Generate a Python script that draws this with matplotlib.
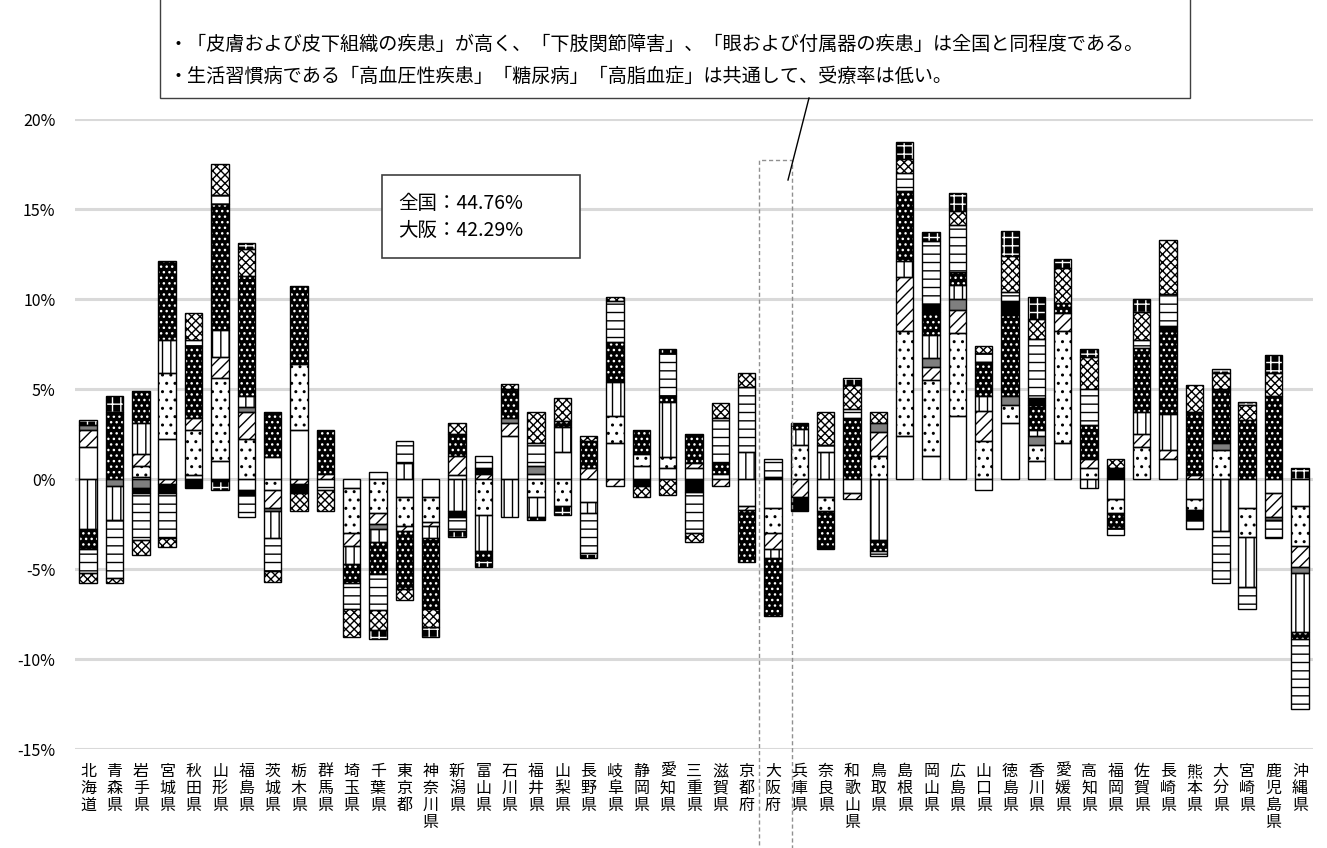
import numpy as np
import matplotlib
matplotlib.use('Agg')
import matplotlib.pyplot as plt
from matplotlib.patches import Rectangle
from matplotlib.lines import Line2D

plt.rcParams['font.family'] = ['Noto Sans CJK JP', 'DejaVu Sans']
plt.rcParams['hatch.linewidth'] = 1.0

# ── データ (全国比の差, %) ──
prefs = ['北海道', '青森県', '岩手県', '宮城県', '秋田県', '山形県', '福島県', '茨城県',
         '栃木県', '群馬県', '埼玉県', '千葉県', '東京都', '神奈川県', '新潟県', '富山県',
         '石川県', '福井県', '山梨県', '長野県', '岐阜県', '静岡県', '愛知県', '三重県',
         '滋賀県', '京都府', '大阪府', '兵庫県', '奈良県', '和歌山県', '鳥取県', '島根県',
         '岡山県', '広島県', '山口県', '徳島県', '香川県', '愛媛県', '高知県', '福岡県',
         '佐賀県', '長崎県', '熊本県', '大分県', '宮崎県', '鹿児島県', '沖縄県']

# 系列 (下から順に積み上げ)
s_blank = [1.8, 0, 0.1, 2.2, 0.2, 1.0, -0.6, 1.2, 2.7, 0, -0.5, 0.4, -1.0, -1.0, 0.2, 0,
           2.4, 0.3, 1.5, -1.3, 2.0, 0.7, 0.6, 0.6, 0.3, -1.5, -1.6, 0, -1.0, -0.8, 0, 2.4,
           1.3, 3.5, -0.6, 3.1, 1.0, 2.0, 0, -1.1, 0, 1.1, -1.1, 0, -1.6, -0.8, -1.5]
s_dots = [0, 0, 0.6, 3.7, 2.5, 4.6, 2.2, -0.6, 3.7, 0, -2.5, -1.9, -1.6, -1.4, 0, -2.0,
          0, -1.0, -1.5, 0, 1.5, 0.7, 0.6, 0, 0, 0, -1.4, 1.9, -0.8, 0, 1.3, 5.8,
          4.2, 4.6, 2.1, 1.0, 0.9, 6.2, 0.6, -0.8, 1.8, 0, -0.6, 1.6, -1.6, 0, -2.2]
s_diag = [0.9, 0, 0.7, -0.3, 0.7, 1.2, 1.5, -1.0, -0.3, 0.3, -0.7, -0.6, -0.3, -0.2, 1.1, 0.3,
          0.7, 0, 0, 0.6, -0.4, 0, 0, 0.3, -0.4, -0.2, -0.9, -1.0, 0, -0.3, 1.3, 3.0,
          0.7, 1.3, 1.7, 0, 0, 1.0, 0.5, 0, 0.7, 0.5, 0.2, 0, 0, -1.3, -1.2]
s_gray = [0.3, -0.4, -0.5, 0, 0, 0, 0.3, -0.2, 0, 0, 0, -0.3, 0, 0, 0, 0,
          0.3, 0.4, 0, 0, 0, 0, 0, 0, 0, 0, 0, 0, 0, 0, 0.5, 0,
          0.5, 0.6, 0, 0.5, 0.5, 0, 0, 0, 0, 0, 0, 0.4, 0, -0.2, -0.3]
s_vert = [-2.8, -1.9, 1.7, 1.8, 0, 1.5, 0.6, -1.5, 0, 0, -1.0, -0.7, 0.9, -0.7, -1.8, -2.0,
          -2.1, -1.1, 1.4, -0.6, 1.9, 0, 3.1, 0, 0, 1.5, -0.5, 0.9, 1.5, 0, -3.4, 0.9,
          1.3, 0.8, 0.8, 0, 0.3, 0, -0.5, 0, 1.2, 2.0, 0, -2.9, -2.8, 0, -3.3]
s_ddots = [-1.1, 3.6, 1.8, 4.4, 4.0, 7.0, 6.7, 2.5, 4.3, 2.4, -1.1, -1.8, -3.2, -3.9, 1.2, -0.5,
           1.6, 0, 0.3, 1.5, 2.2, 1.3, 0.3, 1.6, 0.6, -2.9, -3.2, 0.3, -1.9, 3.4, -0.6, 3.9,
           1.3, 0.7, 1.9, 4.5, 1.4, 0.6, 1.9, -0.8, 3.6, 4.6, 3.5, 3.0, 3.3, 4.6, -0.4]
s_black = [0, 0.1, -0.3, -0.5, -0.5, -0.1, -0.3, 0, -0.5, 0, 0, 0, 0, 0, -0.3, 0.3,
           0, 0, 0, 0, 0, -0.4, 0, -0.7, 0, 0, 0.1, -0.8, -0.2, 0, 0, 0,
           0.4, 0, 0, 0.8, 0.4, 0, 0, 0.6, 0, 0.3, -0.6, 0, 0, 0, 0]
s_horiz = [-1.3, -3.2, -2.6, -2.5, 0.3, 0.5, -1.2, -1.8, 0, -0.6, -1.4, -2.0, 1.2, 0, -0.8, 0.7,
           0, 1.3, 0, -2.2, 2.3, 0, 2.4, -2.3, 2.5, 3.6, 1.0, 0, 0.4, 0.5, -0.3, 1.0,
           3.5, 2.6, 0.5, 0.5, 3.3, 0, 2.0, -0.4, 0.4, 1.8, -0.5, -2.9, -1.2, -1.0, -3.9]
s_cross = [-0.6, -0.3, -0.8, -0.5, 1.5, 1.7, 1.5, -0.6, -1.0, -1.2, -1.6, -1.1, -0.6, -1.0, 0.6, 0,
           0.3, 1.7, 1.3, 0.3, 0.2, -0.6, -0.9, -0.5, 0.8, 0.8, 0, 0, 1.8, 1.3, 0.6, 0.8,
           0, 0.8, 0.4, 2.0, 1.1, 1.9, 1.8, 0.5, 1.6, 3.0, 1.5, 0.9, 0.8, 1.3, 0]
s_check = [0.3, 0.9, 0, 0, 0, -0.5, 0.3, 0, 0, 0, 0, -0.5, 0, -0.6, -0.3, -0.4,
           0, -0.2, -0.5, -0.3, 0, 0, 0.2, 0, 0, 0, 0, 0, 0, 0.4, 0, 0.9,
           0.5, 1.0, 0, 1.4, 1.2, 0.5, 0.4, 0, 0.7, 0, 0, 0.2, 0.2, 1.0, 0.6]

y_ticks = [-15, -10, -5, 0, 5, 10, 15, 20]

note_lines = ['・「皮膚および皮下組織の疾患」が高く、「下肢関節障害」、「眼および付属器の疾患」は全国と同程度である。',
              '・生活習慣病である「高血圧性疾患」「糖尿病」「高脂血症」は共通して、受療率は低い。']
rate_text = '全国：44.76%\n大阪：42.29%'

# (面色, ハッチ色, ハッチ)
styles = [
    ('white', 'black', None),
    ('white', 'black', '..'),
    ('white', 'black', '///'),
    ('#7f7f7f', '#7f7f7f', None),
    ('white', 'black', '||'),
    ('black', 'white', '...'),
    ('black', 'black', None),
    ('white', 'black', '--'),
    ('white', 'black', 'xxxx'),
    ('black', 'white', '++'),
]
series = [s_blank, s_dots, s_diag, s_gray, s_vert, s_ddots, s_black, s_horiz, s_cross, s_check]

W, H = 1327, 848
fig = plt.figure(figsize=(W / 100, H / 100), dpi=100)
ax = fig.add_axes([75 / W, 1 - 749 / H, (1313 - 75) / W, (749 - 119) / H])

x = np.arange(len(prefs))
bw = 0.66
pos_base = np.zeros(len(prefs))
neg_base = np.zeros(len(prefs))
for vals, (fc, hc, hatch) in zip(series, styles):
    v = np.array(vals, dtype=float)
    base = np.where(v >= 0, pos_base, neg_base)
    m = v != 0
    ax.bar(x[m], v[m], bw, bottom=base[m], color=fc, edgecolor=hc, hatch=hatch,
           linewidth=0, zorder=2)
    ax.bar(x[m], v[m], bw, bottom=base[m], fill=False, edgecolor='black',
           linewidth=1.0, zorder=3)
    pos_base += np.where(v > 0, v, 0)
    neg_base += np.where(v < 0, v, 0)

ax.set_xlim(-0.5, len(prefs) - 0.5)
ax.set_ylim(-15, 20)
ax.set_yticks(y_ticks)
ax.set_yticklabels([f'{t}%' for t in y_ticks], fontsize=11.5)
ax.yaxis.grid(True, color='#d9d9d9', linewidth=2.2)
ax.set_axisbelow(True)
for sp in ax.spines.values():
    sp.set_visible(False)
ax.set_xticks(x)
ax.set_xticklabels(['\n'.join(p) for p in prefs], fontsize=11.5, linespacing=1.0, va='top')
ax.tick_params(axis='x', length=0, pad=10)
ax.tick_params(axis='y', length=0, pad=14)


def fx(px):
    return px / W


def fy(py):
    return 1 - py / H


# 上部コメント枠
fig.add_artist(Rectangle((fx(160), fy(98)), fx(1190) - fx(160), fy(-3) - fy(98),
                         transform=fig.transFigure, facecolor='white', edgecolor='#404040',
                         linewidth=1.0))
for i, t in enumerate(note_lines):
    fig.text(fx(168), fy(44 + 32 * i), t, fontsize=13.8, va='center', ha='left')
fig.add_artist(Line2D([fx(809), fx(788)], [fy(98), fy(180)], transform=fig.transFigure,
                      color='black', linewidth=1.0))

# 大阪の点線枠
fig.add_artist(Rectangle((fx(759), fy(850)), fx(792) - fx(759), fy(160) - fy(850),
                         transform=fig.transFigure, fill=False, edgecolor='#909090',
                         linewidth=1.0, linestyle=(0, (3, 2))))

# 受療率の枠
fig.add_artist(Rectangle((fx(382), fy(258)), fx(580) - fx(382), fy(175) - fy(258),
                         transform=fig.transFigure, facecolor='white', edgecolor='#404040',
                         linewidth=1.2, zorder=5))
fig.text(fx(398), fy(217), rate_text, fontsize=14, va='center', ha='left', linespacing=1.35,
         zorder=6)

fig.savefig('out.png', dpi=100)
